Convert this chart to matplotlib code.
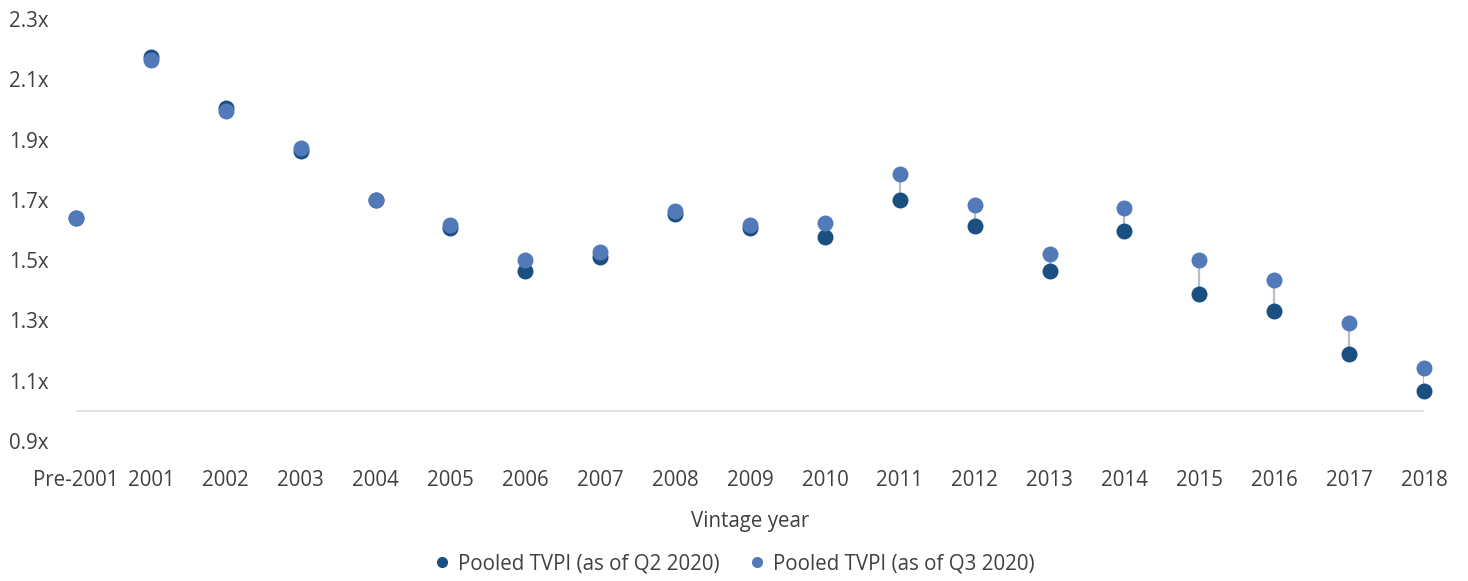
import matplotlib.pyplot as plt
from matplotlib.lines import Line2D
import numpy as np

plt.rcParams["font.family"] = ["Open Sans", "DejaVu Sans"]

vintages = ["Pre-2001", "2001", "2002", "2003", "2004", "2005", "2006", "2007",
            "2008", "2009", "2010", "2011", "2012", "2013", "2014", "2015",
            "2016", "2017", "2018"]
tvpi_q2 = [1.64, 2.175, 2.005, 1.863, 1.70, 1.607, 1.465, 1.511, 1.654, 1.607,
           1.578, 1.70, 1.614, 1.465, 1.597, 1.389, 1.332, 1.19, 1.067]
tvpi_q3 = [1.64, 2.165, 1.995, 1.873, 1.70, 1.617, 1.501, 1.528, 1.664, 1.617,
           1.624, 1.787, 1.684, 1.521, 1.674, 1.501, 1.435, 1.292, 1.143]
y_ticks = [0.9, 1.1, 1.3, 1.5, 1.7, 1.9, 2.1, 2.3]

DARK = "#1A4F82"
LIGHT = "#527AB8"
TEXT = "#404040"
FS = 14.8

fig = plt.figure(figsize=(14.68, 5.81), dpi=100)
ax = fig.add_axes([0.0518, 0.241, 0.9182, 0.726])

x = np.arange(len(vintages))
ax.vlines(x, tvpi_q2, tvpi_q3, color="#B8BDC6", linewidth=1.6, zorder=1)
ax.plot(x, tvpi_q2, "o", color=DARK, markersize=11.5, markeredgewidth=0,
        zorder=2, clip_on=False)
ax.plot(x, tvpi_q3, "o", color=LIGHT, markersize=11.5, markeredgewidth=0,
        zorder=3, clip_on=False)

ax.axhline(1.0, color="#D9DEE4", linewidth=1.2, zorder=0)

ax.set_xlim(0, len(vintages) - 1)
ax.set_ylim(0.9, 2.3)
ax.set_xticks(x)
ax.set_xticklabels(vintages)
ax.set_yticks(y_ticks)
ax.set_yticklabels([f"{v:.1f}x" for v in y_ticks])
ax.tick_params(axis="both", length=0, labelsize=FS, colors=TEXT)
ax.tick_params(axis="x", pad=21)
ax.tick_params(axis="y", pad=20)
for s in ax.spines.values():
    s.set_visible(False)

ax.set_xlabel("Vintage year", fontsize=FS, color=TEXT, labelpad=14)

handles = [
    Line2D([], [], marker="o", linestyle="", color=DARK, markersize=7),
    Line2D([], [], marker="o", linestyle="", color=LIGHT, markersize=7),
]
fig.legend(handles, ["Pooled TVPI (as of Q2 2020)", "Pooled TVPI (as of Q3 2020)"],
           loc="center", bbox_to_anchor=(0.5, 0.029), ncol=2, frameon=False,
           fontsize=FS, labelcolor=TEXT, handlelength=0.8, handletextpad=0.4,
           columnspacing=1.4)

fig.savefig("out.png", dpi=100)
